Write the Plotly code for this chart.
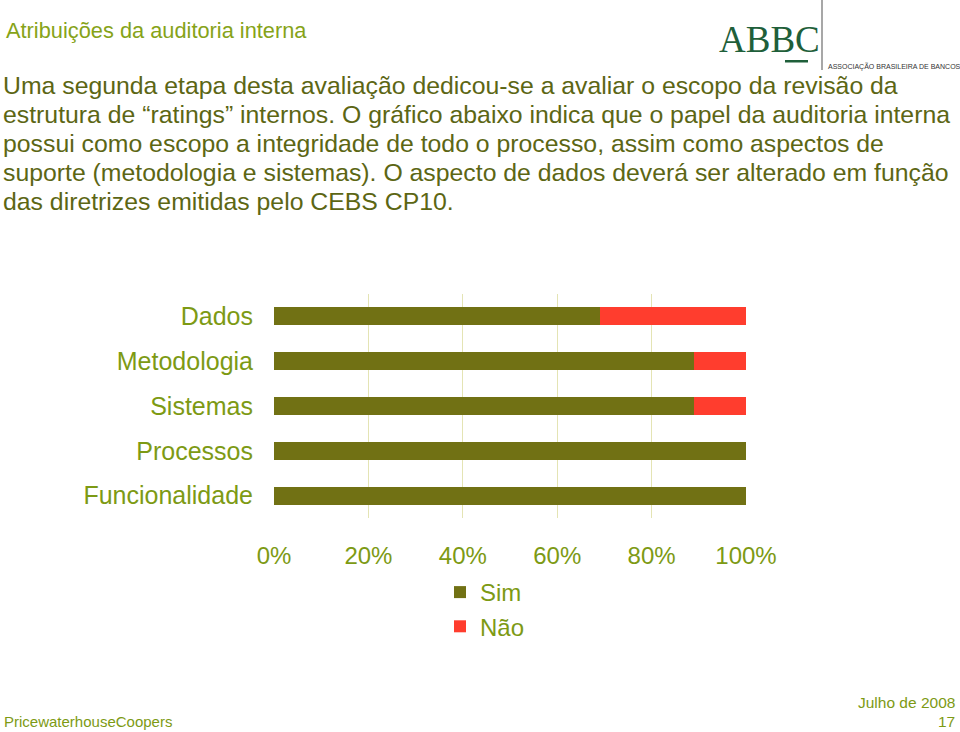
import plotly.graph_objects as go

# ---- data ----
categories = ["Dados", "Metodologia", "Sistemas", "Processos", "Funcionalidade"]
sim_values = [69, 89, 89, 100, 100]
nao_values = [31, 11, 11, 0, 0]
series_names = ["Sim", "Não"]
tick_values = [0, 20, 40, 60, 80, 100]
tick_labels = ["0%", "20%", "40%", "60%", "80%", "100%"]

title_text = "Atribuições da auditoria interna"
body_lines = [
    "Uma segunda etapa desta avaliação dedicou-se a avaliar o escopo da revisão da",
    "estrutura de “ratings” internos. O gráfico abaixo indica que o papel da auditoria interna",
    "possui como escopo a integridade de todo o processo, assim como aspectos de",
    "suporte (metodologia e sistemas). O aspecto de dados deverá ser alterado em função",
    "das diretrizes emitidas pelo CEBS CP10.",
]
footer_left = "PricewaterhouseCoopers"
footer_date = "Julho de 2008"
footer_page = "17"
logo_text = "ABBC"
logo_sub = "ASSOCIAÇÃO BRASILEIRA DE BANCOS"

# ---- layout constants ----
W, H = 960, 732
PL, PR, PT, PB = 274, 746, 294, 518  # plot area in px

SIM_COLOR = "#717114"
NAO_COLOR = "#ff3d2e"
LABEL_COLOR = "#7d9a14"
TITLE_COLOR = "#86a318"
BODY_COLOR = "#5c6614"
GRID_COLOR = "#e4e4b4"
LOGO_GREEN = "#1f5f3a"
FONT = "Liberation Sans, Arial, sans-serif"


def px_x(px):
    return (px - PL) / (PR - PL)


def px_y(py):
    return (PB - py) / (PB - PT)


fig = go.Figure()
fig.add_trace(go.Bar(
    y=categories, x=sim_values, name=series_names[0], orientation="h",
    marker=dict(color=SIM_COLOR, line=dict(width=0)), width=0.4,
    legendgroup="a",
))
fig.add_trace(go.Bar(
    y=categories, x=nao_values, name=series_names[1], orientation="h",
    marker=dict(color=NAO_COLOR, line=dict(width=0)), width=0.4,
    legendgroup="b",
))

annotations = []
# title
annotations.append(dict(
    text=title_text, x=px_x(4), y=px_y(30), xref="paper", yref="paper",
    xanchor="left", yanchor="middle", showarrow=False,
    font=dict(family=FONT, size=21.8, color=TITLE_COLOR),
))
# body
body_y = [85, 114, 143, 172, 201]
for line, yy in zip(body_lines, body_y):
    annotations.append(dict(
        text=line, x=px_x(1), y=px_y(yy), xref="paper", yref="paper",
        xanchor="left", yanchor="middle", showarrow=False,
        font=dict(family=FONT, size=24.8, color=BODY_COLOR),
    ))
# logo
annotations.append(dict(
    text=logo_text, x=px_x(769), y=px_y(40), xref="paper", yref="paper",
    xanchor="center", yanchor="middle", showarrow=False,
    font=dict(family="Liberation Serif, Times New Roman, serif", size=37, color=LOGO_GREEN),
))
annotations.append(dict(
    text=logo_sub, x=px_x(826), y=px_y(66), xref="paper", yref="paper",
    xanchor="left", yanchor="middle", showarrow=False,
    font=dict(family=FONT, size=7, color="#333333"),
))
# footer
annotations.append(dict(
    text=footer_left, x=px_x(2), y=px_y(721), xref="paper", yref="paper",
    xanchor="left", yanchor="middle", showarrow=False,
    font=dict(family=FONT, size=15, color=LABEL_COLOR),
))
annotations.append(dict(
    text=footer_date, x=px_x(957), y=px_y(702), xref="paper", yref="paper",
    xanchor="right", yanchor="middle", showarrow=False,
    font=dict(family=FONT, size=15.5, color=LABEL_COLOR),
))
annotations.append(dict(
    text=footer_page, x=px_x(957), y=px_y(721), xref="paper", yref="paper",
    xanchor="right", yanchor="middle", showarrow=False,
    font=dict(family=FONT, size=15.5, color=LABEL_COLOR),
))

shapes = [
    # logo vertical grey line
    dict(type="line", xref="paper", yref="paper", x0=px_x(822), x1=px_x(822),
         y0=px_y(0), y1=px_y(70), line=dict(color="#8a8a8a", width=1.5)),
    # logo green bar
    dict(type="rect", xref="paper", yref="paper", x0=px_x(785), x1=px_x(808),
         y0=px_y(60), y1=px_y(62.5), line=dict(width=0), fillcolor=LOGO_GREEN),
]

fig.update_layout(
    width=W, height=H,
    margin=dict(l=PL, r=W - PR, t=PT, b=H - PB, pad=0),
    paper_bgcolor="white", plot_bgcolor="white",
    barmode="stack",
    showlegend=True,
    legend=dict(
        x=px_x(440), y=px_y(570), xanchor="left", yanchor="top",
        font=dict(family=FONT, size=24, color=LABEL_COLOR),
        traceorder="grouped", tracegroupgap=0,
        itemwidth=30, bgcolor="rgba(0,0,0,0)",
    ),
    xaxis=dict(
        range=[0, 100], tickvals=tick_values, ticktext=tick_labels,
        showgrid=True, gridcolor=GRID_COLOR, gridwidth=1, zeroline=False,
        showline=False, ticks="", ticklabelstandoff=21,
        tickfont=dict(family=FONT, size=24, color=LABEL_COLOR),
        fixedrange=True,
    ),
    yaxis=dict(
        categoryorder="array", categoryarray=categories, autorange="reversed",
        showgrid=False, zeroline=False, showline=False, ticks="",
        ticklabelstandoff=20,
        tickfont=dict(family=FONT, size=25, color=LABEL_COLOR),
        fixedrange=True,
    ),
    annotations=annotations,
    shapes=shapes,
)

fig.write_html("out.html", config={"displayModeBar": False})
